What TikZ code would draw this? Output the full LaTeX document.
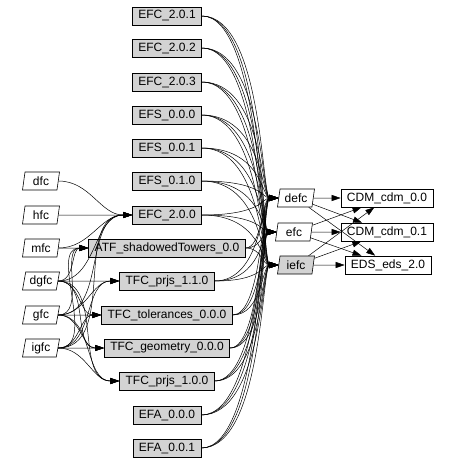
\documentclass[tikz,border=0pt]{standalone}
\usepackage{fontspec}
\setmainfont{Liberation Sans}
\usetikzlibrary{arrows.meta,calc,shapes.geometric}
\definecolor{boxgrey}{RGB}{211,211,211}

\begin{document}
\begin{tikzpicture}[x=1pt, y=-1pt,
    box/.style={draw, line width=0.6pt, fill=boxgrey, font=\fontsize{12}{14}\selectfont, minimum height=18pt, inner xsep=6pt, inner ysep=0pt},
    outbox/.style={box, fill=white},
    para/.style={draw, line width=0.6pt, fill=white, trapezium, trapezium left angle=74, trapezium right angle=106, trapezium stretches body=true, font=\fontsize{12}{14}\selectfont, minimum height=18pt, minimum width=37pt, inner xsep=1pt, inner ysep=0pt},
    edge/.style={-{Triangle[length=9pt,width=6pt]}, line width=0.5pt}
]
\useasboundingbox (0,0) rectangle (449,464);

\node[box] (efc201) at (167, 16) {EFC\_2.0.1};
\node[box] (efc202) at (167, 48) {EFC\_2.0.2};
\node[box] (efc203) at (167, 82) {EFC\_2.0.3};
\node[box] (efs000) at (167, 115) {EFS\_0.0.0};
\node[box] (efs001) at (167, 148) {EFS\_0.0.1};
\node[box] (efs010) at (167, 181) {EFS\_0.1.0};
\node[box] (efc200) at (167, 215) {EFC\_2.0.0};
\node[box] (atf) at (167, 248) {ATF\_shadowedTowers\_0.0};
\node[box] (tfcp11) at (167, 281) {TFC\_prjs\_1.1.0};
\node[box] (tfct) at (167, 315) {TFC\_tolerances\_0.0.0};
\node[box] (tfcg) at (167, 348) {TFC\_geometry\_0.0.0};
\node[box] (tfcp10) at (167, 381) {TFC\_prjs\_1.0.0};
\node[box] (efa000) at (167, 415) {EFA\_0.0.0};
\node[box] (efa001) at (167, 448) {EFA\_0.0.1};

\node[para] (dfc) at (41, 181) {dfc};
\node[para] (hfc) at (41, 215) {hfc};
\node[para] (mfc) at (41, 248) {mfc};
\node[para] (dgfc) at (41, 281) {dgfc};
\node[para] (gfc) at (41, 315) {gfc};
\node[para] (igfc) at (41, 348) {igfc};

\node[para] (defc) at (296, 198) {defc};
\node[para] (efc) at (294, 232) {efc};
\node[para, fill=boxgrey] (iefc) at (296, 265) {iefc};

\node[outbox] (cdm0) at (387, 198) {CDM\_cdm\_0.0};
\node[outbox] (cdm1) at (387, 232) {CDM\_cdm\_0.1};
\node[outbox] (eds) at (388, 265) {EDS\_eds\_2.0};

\coordinate (bundle) at (262, 0);

\draw[edge] (dfc) to[out=0, in=180] (efc200);
\draw[edge] (hfc) -- (efc200);
\draw[edge] (mfc) -- (atf);
\draw[edge] (mfc) to[out=0, in=180] (efc200);
\foreach \src in {dgfc, gfc, igfc}
    \foreach \dst in {efc200, atf, tfcp11, tfct, tfcg, tfcp10}
        \draw[edge] (\src) to[out=0, in=180] (\dst);

\foreach \src in {efc201, efc202, efc203, efs000, efs001, efs010, efc200, atf, tfcp11, tfct, tfcg, tfcp10, efa000, efa001}
    \foreach \dst in {defc, efc, iefc}
        \draw[edge] (\src.east) .. controls (\src.east -| bundle) and (bundle |- \dst.west) .. (\dst.west);

\foreach \src in {defc, efc, iefc}
    \foreach \dst in {cdm0, cdm1, eds}
        \draw[edge] (\src) -- (\dst);

\end{tikzpicture}
\end{document}
